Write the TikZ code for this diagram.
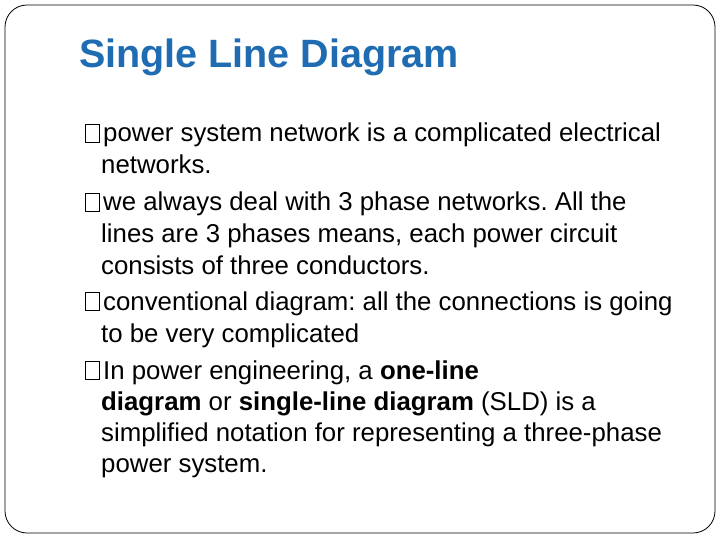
\documentclass[tikz,border=0pt]{standalone}
\usepackage{fontspec}
\setmainfont{Liberation Sans}
\definecolor{titleblue}{RGB}{31,108,178}
\frenchspacing
\begin{document}
\begin{tikzpicture}[x=1pt,y=-1pt,
  line/.style={anchor=base west,inner sep=0pt,font=\fontsize{25.8}{30}\selectfont},
  bul/.style={draw,line width=0.6pt,minimum width=14pt,minimum height=18pt,inner sep=0pt}]
\useasboundingbox (0,0) rectangle (720,540);
\draw[line width=0.8pt,rounded corners=22pt] (5,5) rectangle (715,533);
\node[anchor=base west,inner sep=0pt,text=titleblue,font=\fontsize{39.5}{44}\bfseries] (title) at (79,68) {Single Line Diagram};
\def\bx{85}
\foreach \y/\n in {133/b1,202/b2,301/b3,370/b4}{
  \node[bul,anchor=west] (\n) at (\bx,\y) {};
}
\node[line] (l1) at (103,142) {power system network is a complicated electrical};
\node[line] (l2) at (101,174) {networks.};
\node[line] (l3) at (103,211) {we always deal with 3 phase networks. All the};
\node[line] (l4) at (101,243) {lines are 3 phases means, each power circuit};
\node[line] (l5) at (101,274) {consists of three conductors.};
\node[line] (l6) at (103,310) {conventional diagram: all the connections is going};
\node[line] (l7) at (101,342) {to be very complicated};
\node[line] (l8) at (103,379) {In power engineering, a \textbf{one-line}};
\node[line] (l9) at (101,410) {\textbf{diagram} or \textbf{single-line diagram} (SLD) is a};
\node[line] (l10) at (101,441) {simplified notation for representing a three-phase};
\node[line] (l11) at (101,472) {power system.};
\end{tikzpicture}
\end{document}
